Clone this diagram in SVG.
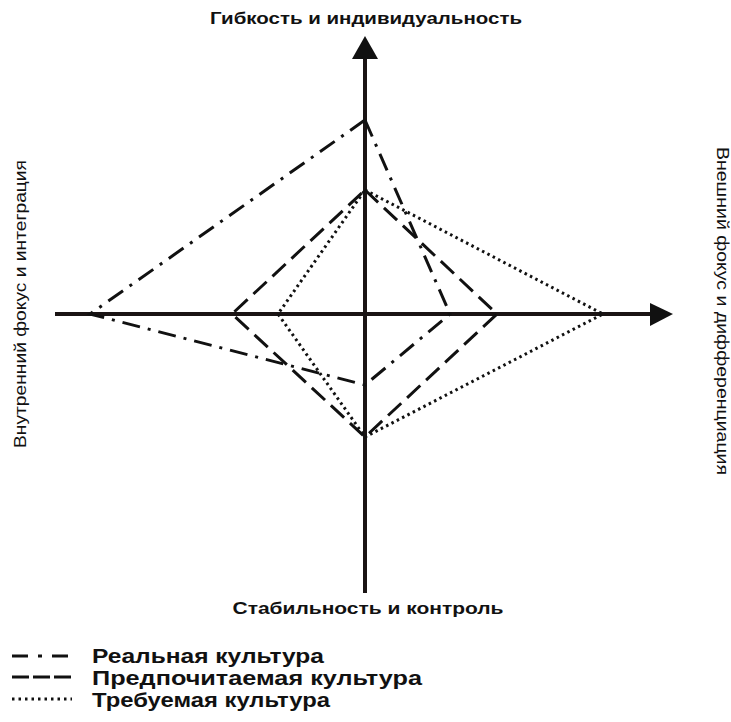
<svg xmlns="http://www.w3.org/2000/svg" width="731" height="722" viewBox="0 0 731 722">
<style>
.ax{stroke:#1a1414;stroke-width:4;fill:none}
.real{stroke:#111;stroke-width:3;fill:none;stroke-dasharray:18 8 3 8}
.pref{stroke:#111;stroke-width:3;fill:none;stroke-dasharray:18 8}
.req{stroke:#111;stroke-width:3;fill:none;stroke-dasharray:2.5 3.5}
.lbl{font-family:"Liberation Sans",Arial,sans-serif;font-weight:bold;fill:#111}
.side{font-family:"Liberation Sans",Arial,sans-serif;fill:#111;font-size:17px}
</style>
<rect width="731" height="722" fill="#fff"/>
<g id="connectors">
<g id="axes">
<line class="ax" x1="365" y1="56" x2="365" y2="593"/>
<polygon points="365,36 352,59 378,59" fill="#111"/>
<line class="ax" x1="55" y1="314" x2="652" y2="314"/>
<polygon points="673,314 650,303 650,326" fill="#111"/>
</g>
<polygon id="real" class="real" points="365,120 450,314 365,385 90,314"/>
<polygon id="preferred" class="pref" points="365,190 497,314 365,437 232,314"/>
<polygon id="required" class="req" points="365,190 603,314 365,437 278,314"/>
</g>
<g id="label-top"><text class="lbl" x="366" y="24" font-size="17" text-anchor="middle" textLength="312" lengthAdjust="spacingAndGlyphs">Гибкость и индивидуальность</text></g>
<g id="label-bottom"><text class="lbl" x="368" y="614" font-size="17" text-anchor="middle" textLength="271" lengthAdjust="spacingAndGlyphs">Стабильность и контроль</text></g>
<g id="label-left"><text class="side" transform="translate(26,304) rotate(-90)" text-anchor="middle" textLength="288" lengthAdjust="spacingAndGlyphs">Внутренний фокус и интеграция</text></g>
<g id="label-right"><text class="side" transform="translate(717,311) rotate(90)" text-anchor="middle" textLength="328" lengthAdjust="spacingAndGlyphs">Внешний фокус и дифференциация</text></g>
<g id="legend">
<line class="real" x1="12" y1="656" x2="72" y2="656" style="stroke-dasharray:16 10 4 10"/>
<line class="pref" x1="12" y1="677" x2="72" y2="677" style="stroke-dasharray:17 4"/>
<line class="req" x1="12" y1="699" x2="72" y2="699" style="stroke-dasharray:2.5 4"/>
<text class="lbl" x="92" y="663" font-size="21" textLength="232" lengthAdjust="spacingAndGlyphs">Реальная культура</text>
<text class="lbl" x="92" y="685" font-size="21" textLength="330" lengthAdjust="spacingAndGlyphs">Предпочитаемая культура</text>
<text class="lbl" x="92" y="707" font-size="21" textLength="238" lengthAdjust="spacingAndGlyphs">Требуемая культура</text>
</g>
</svg>
